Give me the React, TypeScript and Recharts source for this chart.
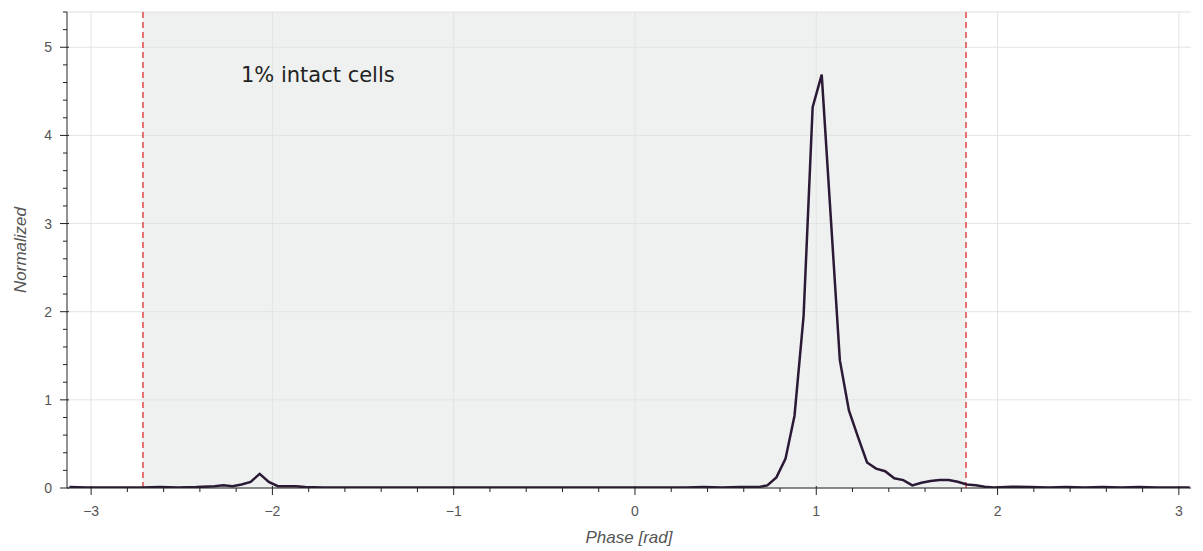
import React from 'react';
import { LineChart, Line, XAxis, YAxis, CartesianGrid, ReferenceArea, ReferenceLine, Label } from 'recharts';

// phase bins [rad] and normalized counts
const phase = [
    -3.12, -3.02, -2.92, -2.82, -2.72, -2.62, -2.52, -2.42, -2.32, -2.27,
    -2.22, -2.17, -2.12, -2.07, -2.02, -1.97, -1.92, -1.87, -1.82, -1.72,
    -1.62, -1.52, -1.42, -1.32, -1.22, -1.12, -1.02, -0.92, -0.82, -0.72,
    -0.62, -0.52, -0.42, -0.32, -0.22, -0.12, -0.02, 0.08, 0.18, 0.28,
    0.38, 0.48, 0.58, 0.63, 0.68, 0.73, 0.78, 0.83, 0.88, 0.93,
    0.98, 1.03, 1.08, 1.13, 1.18, 1.23, 1.28, 1.33, 1.38, 1.43,
    1.48, 1.53, 1.58, 1.63, 1.68, 1.73, 1.78, 1.83, 1.88, 1.93,
    1.98, 2.08, 2.18, 2.28, 2.38, 2.48, 2.58, 2.68, 2.78, 2.88,
    2.98, 3.06,
];
const normalized = [
    0.01, 0.005, 0.005, 0.005, 0.005, 0.01, 0.005, 0.01, 0.02, 0.03,
    0.02, 0.04, 0.07, 0.16, 0.07, 0.02, 0.02, 0.02, 0.01, 0.005,
    0.005, 0.005, 0.005, 0.005, 0.005, 0.005, 0.005, 0.005, 0.005, 0.005,
    0.005, 0.005, 0.005, 0.005, 0.005, 0.005, 0.005, 0.005, 0.005, 0.005,
    0.01, 0.005, 0.01, 0.01, 0.01, 0.03, 0.12, 0.33, 0.82, 1.95,
    4.32, 4.69, 3.07, 1.45, 0.88, 0.58, 0.29, 0.22, 0.19, 0.11,
    0.09, 0.03, 0.06, 0.08, 0.09, 0.09, 0.07, 0.04, 0.03, 0.015,
    0.005, 0.015, 0.01, 0.005, 0.01, 0.005, 0.01, 0.005, 0.01, 0.005,
    0.005, 0.005,
];

const xTicks = [
    -3, -2.8, -2.6, -2.4, -2.2, -2, -1.8, -1.6, -1.4, -1.2, -1, -0.8, -0.6, -0.4, -0.2,
    0, 0.2, 0.4, 0.6, 0.8, 1, 1.2, 1.4, 1.6, 1.8, 2, 2.2, 2.4, 2.6, 2.8, 3,
];
const yTicks = [
    0, 0.2, 0.4, 0.6, 0.8, 1, 1.2, 1.4, 1.6, 1.8, 2, 2.2, 2.4, 2.6, 2.8,
    3, 3.2, 3.4, 3.6, 3.8, 4, 4.2, 4.4, 4.6, 4.8, 5, 5.2, 5.4,
];
const xMajor = [-3, -2, -1, 0, 1, 2, 3];
const yMajor = [0, 1, 2, 3, 4, 5];

const windowStart = -2.714;
const windowEnd = 1.826;

const data = phase.map((x, i) => ({ x, y: normalized[i] }));

const isMajor = (v: number) => Math.abs(v - Math.round(v)) < 1e-6;
const fmt = (v: number) => (v < 0 ? `\u2212${Math.abs(Math.round(v))}` : `${Math.round(v)}`);

const AXIS = '#222';
const TEXT = '#555';
const FONT = '"Liberation Sans", Arial, sans-serif';

function XTick({ x, y, payload }: any) {
    const v = payload.value;
    const major = isMajor(v);
    return (
        <g>
            <line x1={x} x2={x} y1={major ? y - 2 : y} y2={y + (major ? 7 : 4)} stroke={AXIS} strokeWidth={1} />
            {major && (
                <text x={x} y={y + 28} textAnchor="middle" fill={TEXT} fontSize={14} fontFamily={FONT}>
                    {fmt(v)}
                </text>
            )}
        </g>
    );
}

function YTick({ x, y, payload }: any) {
    const v = payload.value;
    const major = isMajor(v);
    return (
        <g>
            <line x1={x - (major ? 7 : 4)} x2={major ? x + 2 : x} y1={y} y2={y} stroke={AXIS} strokeWidth={1} />
            {major && (
                <text x={x - 15} y={y + 5} textAnchor="end" fill={TEXT} fontSize={14} fontFamily={FONT}>
                    {fmt(v)}
                </text>
            )}
        </g>
    );
}

export default function App() {
    return (
        <div style={{ position: 'absolute', left: 0, top: 0, width: 1203, height: 551, background: '#fff' }}>
            <LineChart width={1203} height={551} data={data} margin={{ top: 12, right: 12, left: 0, bottom: 0 }}>
                <CartesianGrid stroke="#e4e4e4" verticalValues={xMajor} horizontalValues={yMajor} />
                <ReferenceArea
                    x1={windowStart}
                    x2={windowEnd}
                    y1={0}
                    y2={5.4}
                    fill="#dfe4e4"
                    fillOpacity={0.5}
                    stroke="none"
                    label={(props: any) => (
                        <text
                            x={props.viewBox.x + 98}
                            y={props.viewBox.y + 70}
                            fill="#222"
                            fontSize={21}
                            fontFamily='"DejaVu Sans", sans-serif'
                        >
                            1% intact cells
                        </text>
                    )}
                />
                <ReferenceLine y={5.4} stroke="#e0e0e0" strokeWidth={1} />
                <ReferenceLine x={windowStart} stroke="#e0484a" strokeWidth={1.5} strokeDasharray="6 4" />
                <ReferenceLine x={windowEnd} stroke="#e0484a" strokeWidth={1.5} strokeDasharray="6 4" />
                <XAxis
                    type="number"
                    dataKey="x"
                    domain={[-3.133, 3.067]}
                    ticks={xTicks}
                    interval={0}
                    allowDataOverflow
                    tickLine={false}
                    tickSize={0}
                    tickMargin={0}
                    tick={<XTick />}
                    axisLine={{ stroke: AXIS, strokeWidth: 1 }}
                    height={63}
                >
                    <Label
                        content={(props: any) => (
                            <text
                                x={props.viewBox.x + props.viewBox.width / 2}
                                y={props.viewBox.y + 55}
                                textAnchor="middle"
                                fill={TEXT}
                                fontSize={17}
                                fontStyle="italic"
                                fontFamily={FONT}
                            >
                                Phase [rad]
                            </text>
                        )}
                    />
                </XAxis>
                <YAxis
                    type="number"
                    domain={[0, 5.4]}
                    ticks={yTicks}
                    interval={0}
                    allowDataOverflow
                    tickLine={false}
                    tickSize={0}
                    tickMargin={0}
                    tick={<YTick />}
                    axisLine={{ stroke: AXIS, strokeWidth: 1 }}
                    width={67}
                >
                    <Label
                        content={(props: any) => {
                            const cy = props.viewBox.y + props.viewBox.height / 2;
                            return (
                                <text
                                    x={26}
                                    y={cy}
                                    transform={`rotate(-90, 26, ${cy})`}
                                    textAnchor="middle"
                                    fill={TEXT}
                                    fontSize={17}
                                    fontStyle="italic"
                                    fontFamily={FONT}
                                >
                                    Normalized
                                </text>
                            );
                        }}
                    />
                </YAxis>
                <Line
                    type="linear"
                    dataKey="y"
                    stroke="#2b1a35"
                    strokeWidth={2.5}
                    dot={false}
                    isAnimationActive={false}
                />
            </LineChart>
        </div>
    );
}
